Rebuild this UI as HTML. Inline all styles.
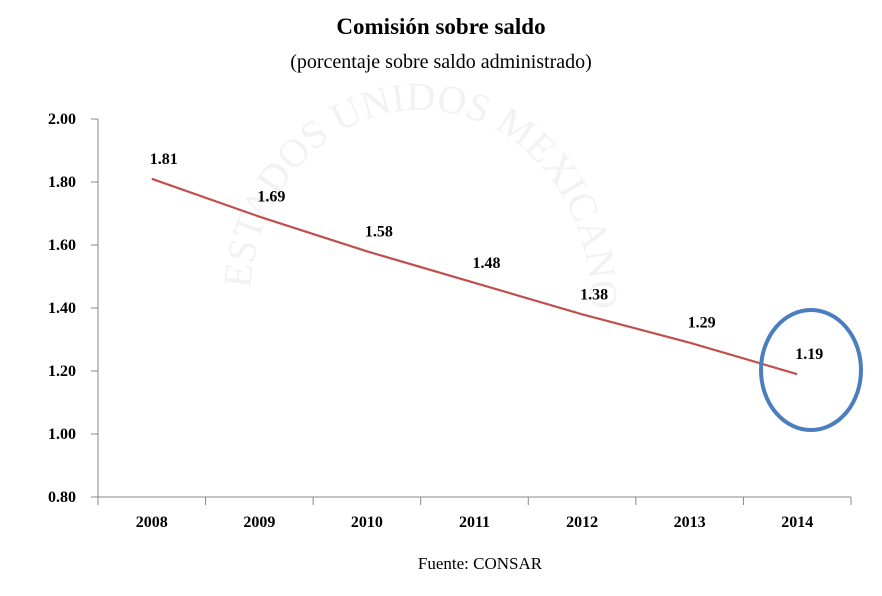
<!DOCTYPE html>
<html><head><meta charset="utf-8"><style>
body{margin:0;background:#fff;}
svg text{font-family:"Liberation Serif",serif;}
</style></head><body>
<svg width="882" height="591" xmlns="http://www.w3.org/2000/svg">
<text x="441" y="34" text-anchor="middle" font-size="23" font-weight="bold">Comisión sobre saldo</text>
<text x="441" y="68" text-anchor="middle" font-size="20">(porcentaje sobre saldo administrado)</text>
<defs><path id="arc" d="M250,300 A170,190 0 0 1 590,300"/></defs>
<text font-size="40" fill="#f2f2f2"><textPath href="#arc" startOffset="2%">ESTADOS UNIDOS MEXICANOS</textPath></text>
<g id="axes"></g>
<g id="marks"></g>
<ellipse cx="811" cy="370" rx="50" ry="60" fill="none" stroke="#4a7ebf" stroke-width="4"/>
<text x="480" y="569" text-anchor="middle" font-size="17">Fuente: CONSAR</text>
</svg>
<script>
const categories=["2008","2009","2010","2011","2012","2013","2014"];
const values=[1.81,1.69,1.58,1.48,1.38,1.29,1.19];
const yTicks=[0.80,1.00,1.20,1.40,1.60,1.80,2.00];
const NS="http://www.w3.org/2000/svg";
const x0=98,x1=851,yMin=0.8,yMax=2.0,yTop=119,yBot=497;
const bw=(x1-x0)/categories.length;
function xs(i){return x0+bw*(i+0.5);}
function ys(v){return yBot-(v-yMin)/(yMax-yMin)*(yBot-yTop);}
function mk(t,a,p){const e=document.createElementNS(NS,t);for(const k in a)e.setAttribute(k,a[k]);p.appendChild(e);return e;}
const ax=document.getElementById('axes'),mg=document.getElementById('marks');
const ya=mk('line',{x1:x0,y1:yTop,x2:x0,y2:yBot,stroke:'#888','stroke-width':1},ax);


const xa=mk('line',{x1:x0,y1:yBot,x2:x1,y2:yBot,stroke:'#888','stroke-width':1},ax);


yTicks.forEach(v=>{
 const y=ys(v);
 mk('line',{x1:x0-7,y1:y,x2:x0,y2:y,stroke:'#888'},ax);
 const t=mk('text',{x:76,y:y+5,'text-anchor':'end','font-size':16,'font-weight':'bold'},ax);
 t.textContent=v.toFixed(2);
 
 
});
for(let i=0;i<=categories.length;i++){const x=x0+bw*i;mk('line',{x1:x,y1:yBot,x2:x,y2:yBot+8,stroke:'#888'},ax);}
categories.forEach((c,i)=>{
 const t=mk('text',{x:xs(i),y:527,'text-anchor':'middle','font-size':16,'font-weight':'bold'},ax);
 t.textContent=c;
 
 
});
const line=mk('polyline',{points:values.map((v,i)=>xs(i)+','+ys(v)).join(' '),fill:'none',stroke:'#c0504d','stroke-width':2.2},mg);


values.forEach((v,i)=>{
 const t=mk('text',{x:xs(i)+12,y:ys(v)-15,'text-anchor':'middle','font-size':16,'font-weight':'bold'},mg);
 t.textContent=v.toFixed(2);
 
 
});
</script>
</body></html>
